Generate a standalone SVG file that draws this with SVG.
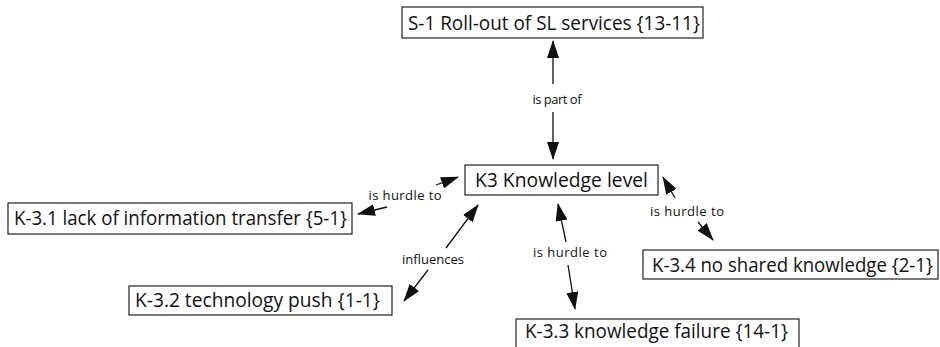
<svg xmlns="http://www.w3.org/2000/svg" width="940" height="347" viewBox="0 0 940 347">
  <defs>
    <marker id="arrow" markerUnits="userSpaceOnUse" markerWidth="18" markerHeight="12" refX="17" refY="6" orient="auto">
      <path d="M0,0 L18,6 L0,12 z" fill="#111"/>
    </marker>
    <style>
      .box { fill: #fff; stroke: #222; stroke-width: 1.2; }
      .node { font-family: "Open Sans", "Liberation Sans", sans-serif; font-size: 19.5px; fill: #111; }
      .lbl { font-family: "Open Sans", "Liberation Sans", sans-serif; font-size: 13px; fill: #111; text-anchor: middle; }
      .edge { stroke: #111; stroke-width: 1.3; fill: none; marker-end: url(#arrow); }
    </style>
  </defs>
  <rect width="940" height="347" fill="#fff"/>

  <g id="connectors">
    <!-- S-1 / K3 -->
    <line class="edge" x1="553" y1="84" x2="553" y2="41"/>
    <line class="edge" x1="553" y1="112" x2="553" y2="159"/>
    <!-- K3 / K-3.1 -->
    <line class="edge" x1="436" y1="185" x2="458" y2="177"/>
    <line class="edge" x1="387" y1="207" x2="358" y2="214"/>
    <!-- K3 / K-3.2 -->
    <line class="edge" x1="446" y1="248" x2="478" y2="205"/>
    <line class="edge" x1="428" y1="270" x2="404" y2="301"/>
    <!-- K3 / K-3.3 -->
    <line class="edge" x1="566" y1="242" x2="558" y2="204"/>
    <line class="edge" x1="568" y1="265" x2="575" y2="309"/>
    <!-- K3 / K-3.4 -->
    <line class="edge" x1="675" y1="198" x2="663" y2="177"/>
    <line class="edge" x1="698" y1="222" x2="713" y2="240"/>
    <text class="lbl" x="557" y="104" textLength="49">is part of</text>
    <text class="lbl" x="405" y="200" textLength="73">is hurdle to</text>
    <text class="lbl" x="433" y="264" textLength="62">influences</text>
    <text class="lbl" x="570" y="257" textLength="74">is hurdle to</text>
    <text class="lbl" x="687" y="216" textLength="74">is hurdle to</text>
  </g>

  <g id="s1">
    <rect class="box" x="402" y="7" width="301" height="31"/>
    <text class="node" x="408" y="30" textLength="292" lengthAdjust="spacingAndGlyphs">S-1 Roll-out of SL services {13-11}</text>
  </g>
  <g id="k3">
    <rect class="box" x="465" y="165" width="193" height="30"/>
    <text class="node" x="475" y="187" textLength="173" lengthAdjust="spacingAndGlyphs">K3 Knowledge level</text>
  </g>
  <g id="k31">
    <rect class="box" x="8" y="203" width="344" height="31"/>
    <text class="node" x="14" y="225" textLength="333" lengthAdjust="spacingAndGlyphs">K-3.1 lack of information transfer {5-1}</text>
  </g>
  <g id="k32">
    <rect class="box" x="129" y="286" width="263" height="29"/>
    <text class="node" x="135" y="307" textLength="245" lengthAdjust="spacingAndGlyphs">K-3.2 technology push {1-1}</text>
  </g>
  <g id="k33">
    <rect class="box" x="516" y="319" width="283" height="32"/>
    <text class="node" x="525" y="338" textLength="263" lengthAdjust="spacingAndGlyphs">K-3.3 knowledge failure {14-1}</text>
  </g>
  <g id="k34">
    <rect class="box" x="643" y="250" width="295" height="29"/>
    <text class="node" x="652" y="272" textLength="281" lengthAdjust="spacingAndGlyphs">K-3.4 no shared knowledge {2-1}</text>
  </g>
</svg>
